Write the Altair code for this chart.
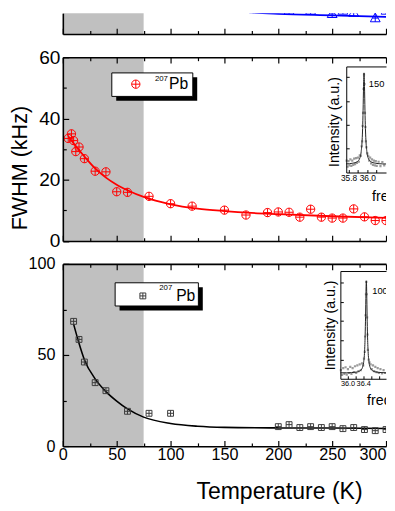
import altair as alt
import pandas as pd

FONT = "Liberation Sans"

# ---------------- data ----------------
SHADE = [0, 75]                      # shaded temperature range (K)
X_DOMAIN = [0, 300]
X_MAJOR = [0, 50, 100, 150, 200, 250, 300]
X_LABELS = [0, 50, 100, 150, 200, 250]
X_LAST = [300]
X_MINOR = [25, 75, 125, 175, 225, 275]

# top panel (blue triangles, only its bottom edge is visible)
T_TOP = [100, 150, 200, 210, 220, 230, 250, 260, 270, 280, 290, 300]
W_TOP = [10.0, 9.7, 10.0, 7.8, 8.9, 7.8, 6.7, 7.8, 7.1, 8.9, 5.3, 7.8]
T_TOP_FIT = [100, 125, 150, 175, 200, 250, 300]
W_TOP_FIT = [11.2, 9.4, 8.1, 7.1, 6.6, 6.1, 5.6]

# middle panel (red circles)
T_MID = [5, 8, 10, 12, 15, 20, 30, 40, 50, 60, 80, 100, 120, 150, 170, 190,
         200, 210, 220, 230, 240, 250, 260, 270, 280, 290, 300]
W_MID = [33.5, 35.0, 32.8, 29.2, 30.7, 26.9, 22.8, 22.6, 16.1, 15.9, 14.6, 12.2,
         11.4, 10.1, 8.5, 9.3, 9.5, 9.4, 7.8, 10.4, 7.8, 7.5, 7.5, 10.5, 7.9, 6.7, 6.7]
T_MID_FIT = [5, 10, 20, 30, 40, 50, 60, 75, 100, 125, 150, 175, 200, 250, 300]
W_MID_FIT = [34.2, 31.9, 27.6, 23.7, 20.7, 18.4, 16.6, 14.4, 12.0, 10.6, 9.8, 9.2,
             8.8, 8.1, 7.6]

# bottom panel (dark squares)
T_BOT = [10, 15, 20, 30, 40, 60, 80, 100, 200, 210, 220, 230, 240, 250, 260,
         270, 280, 290, 300]
W_BOT = [68.5, 58.6, 46.2, 34.9, 30.5, 19.2, 18.1, 18.1, 10.8, 11.9, 10.3, 10.8,
         10.3, 10.8, 9.7, 10.3, 9.2, 8.6, 9.2]
T_BOT_FIT = [10, 15, 20, 30, 40, 50, 60, 75, 100, 125, 150, 200, 250, 300]
W_BOT_FIT = [67, 56.5, 47.5, 37, 30, 24.8, 20.5, 16, 12.5, 11, 10.4, 10.1, 10.0, 9.8]

ISOTOPE = ["Pb"]

# inset spectrum, middle panel (150 K)
F1_FIT = [35.776, 35.845, 35.895, 35.92, 35.935, 35.945, 35.95, 35.955, 35.96,
          35.965, 35.97, 35.975, 35.98, 35.985, 35.995, 36.01, 36.035, 36.085,
          36.165, 36.25]
I1_FIT = [0.36, 0.39, 0.46, 0.60, 0.88, 1.36, 1.84, 2.60, 3.60, 4.17, 3.60, 2.60,
          1.84, 1.36, 0.88, 0.60, 0.46, 0.39, 0.36, 0.355]
F1_PTS = [35.78, 35.79, 35.80, 35.81, 35.82, 35.83, 35.84, 35.85, 35.86, 35.87,
          35.88, 35.89, 35.90, 35.91, 35.92, 35.93, 35.94, 35.945, 35.95, 35.955,
          35.96, 35.965, 35.97, 35.975, 35.98, 35.985, 35.99, 36.00, 36.01, 36.02,
          36.03, 36.04, 36.05, 36.06, 36.07, 36.08, 36.09, 36.10, 36.12, 36.14,
          36.16, 36.18]
I1_PTS = [0.50, 0.25, 0.48, 0.30, 0.55, 0.28, 0.50, 0.32, 0.58, 0.35, 0.60, 0.40,
          0.62, 0.45, 0.72, 0.70, 1.10, 1.30, 1.95, 2.50, 3.50, 4.10, 3.70, 2.50,
          1.90, 1.30, 1.05, 0.80, 0.70, 0.50, 0.62, 0.38, 0.55, 0.32, 0.50, 0.30,
          0.48, 0.28, 0.45, 0.27, 0.44, 0.30]
LAB1 = ["150 K"]
LAB1_F = [36.016]
LAB1_I = [3.69]

# inset spectrum, bottom panel (100 K)
F2_FIT = [35.82, 35.98, 36.23, 36.33, 36.38, 36.41, 36.435, 36.45, 36.46, 36.47,
          36.48, 36.49, 36.50, 36.51, 36.525, 36.55, 36.58, 36.63, 36.73, 36.98]
I2_FIT = [0.31, 0.31, 0.35, 0.43, 0.58, 0.84, 1.43, 2.27, 3.23, 4.44, 5.1, 4.44,
          3.23, 2.27, 1.43, 0.84, 0.58, 0.43, 0.35, 0.31]
F2_PTS = [35.83, 35.86, 35.89, 35.92, 35.95, 35.98, 36.01, 36.04, 36.07, 36.10,
          36.13, 36.16, 36.19, 36.22, 36.25, 36.28, 36.31, 36.34, 36.37, 36.40,
          36.42, 36.44, 36.45, 36.46, 36.47, 36.48, 36.49, 36.50, 36.51, 36.52,
          36.54, 36.56, 36.59, 36.62, 36.65, 36.68, 36.71, 36.74, 36.77, 36.80,
          36.84, 36.88, 36.92, 36.96]
I2_PTS = [0.45, 0.20, 0.55, 0.25, 0.60, 0.22, 0.50, 0.30, 0.62, 0.25, 0.55, 0.35,
          0.65, 0.30, 0.70, 0.40, 0.75, 0.45, 0.80, 0.70, 1.05, 1.40, 2.20, 3.30,
          4.40, 5.05, 4.40, 3.20, 2.30, 1.50, 1.00, 0.85, 0.75, 0.50, 0.70, 0.40,
          0.62, 0.35, 0.55, 0.30, 0.50, 0.28, 0.45, 0.30]
LAB2 = ["100 K"]
LAB2_F = [36.63]
LAB2_I = [4.56]

FREQ_TITLE = "frequency (MHz)"
INT_TITLE = "Intensity (a.u.)"

# ---------------- styling / layout constants ----------------
W = 330
H_TOP, H_MID, H_BOT = 21.3, 187.7, 186.3
GRAY = "#c0c0c0"
RED, BLUE, DARK = "#ff0000", "#0000ff", "#3a3a3a"
CIRC = "M-1,0A1,1,0,1,0,1,0A1,1,0,1,0,-1,0ZM-1,0H1M0,-1V1"
SQUARE = "M-1,-1H1V1H-1ZM-1,0H1M0,-1V1"
TRI = "M0,-1L1,0.8H-1ZM0,-1V0.8M-0.55,0.05H0.55"
COMMON = dict(grid=False, zindex=1, labelFont=FONT, labelColor="black",
              labelFlush=False, labelOverlap=False, titleFont=FONT,
              titleFontWeight="normal", titleColor="black")


def df(**cols):
    return pd.DataFrame(cols)


def xscale():
    return alt.Scale(domain=X_DOMAIN, nice=False, zero=False)


def tick_axis(orient, size, values, **kw):
    d = dict(COMMON, orient=orient, offset=-size, tickSize=size, ticks=True,
             domain=False, labels=False, values=values, title=None,
             tickColor="black", tickWidth=1.2)
    d.update(kw)
    return alt.Axis(**d)


def line_axis(orient, offset, width=1.0, **kw):
    d = dict(COMMON, orient=orient, offset=offset, domain=True, domainColor="black",
             domainWidth=width, ticks=False, tickSize=0, labels=False, title=None)
    d.update(kw)
    return alt.Axis(**d)


def hosts(pairs, yscale, ydom):
    """Invisible layers that only carry axes (frame lines, inward ticks)."""
    out = []
    for xa, ya in pairs:
        out.append(alt.Chart(df(T=X_DOMAIN, W=ydom)).mark_point(
            opacity=0, size=1, clip=True).encode(
            x=alt.X("T:Q", scale=xscale(), axis=xa),
            y=alt.Y("W:Q", scale=yscale, axis=ya)))
    return out


def shade_layer(H):
    return alt.Chart(df(t0=[SHADE[0]], t1=[SHADE[1]])).mark_rect(color=GRAY).encode(
        x=alt.X("t0:Q", scale=xscale(), axis=None), x2="t1:Q",
        y=alt.value(0), y2=alt.value(H))


def inset_layers(H, xs, ys, left, bottom, top, Fp, Ip, Ff, If, lab, lf, li,
                 xlab_vals, lab_font, xtick_vals, ytick_vals, yt_x, yt_y, xt_x, xt_y):
    ax_x_main = line_axis("bottom", -(H - bottom), labels=True, values=xlab_vals,
                          format=".1f", labelFontSize=lab_font, labelPadding=1)
    ax_y_main = line_axis("left", -left, title=INT_TITLE, titleFontSize=14.5,
                          titleX=yt_x, titleY=yt_y, titleAngle=270,
                          titleAlign="center", titleBaseline="middle")
    ax_x_ticks = tick_axis("bottom", 3, xtick_vals, offset=-(H - bottom) - 3,
                           tickWidth=1)
    ax_y_ticks = tick_axis("left", 3, ytick_vals, offset=-left - 3, tickWidth=1)
    ax_top = line_axis("top", -top)
    pts = alt.Chart(df(f=Fp, i=Ip)).mark_square(
        size=5, color="#8a8a8a", opacity=0.85, clip=True).encode(
        x=alt.X("f:Q", scale=xs, axis=ax_x_main),
        y=alt.Y("i:Q", scale=ys, axis=ax_y_main))
    fit = alt.Chart(df(f=Ff, i=If)).mark_line(
        color="#202020", strokeWidth=1, interpolate="monotone", clip=True).encode(
        x=alt.X("f:Q", scale=xs, axis=ax_x_ticks),
        y=alt.Y("i:Q", scale=ys, axis=ax_y_ticks))
    txt = alt.Chart(df(f=lf, i=li, s=lab)).mark_text(
        align="left", baseline="middle", fontSize=9.5, font=FONT, color="black",
        clip=True).encode(
        x=alt.X("f:Q", scale=xs, axis=ax_top),
        y=alt.Y("i:Q", scale=ys, axis=None), text="s:N")
    ftitle = alt.Chart(df(s=[FREQ_TITLE])).mark_text(
        align="left", baseline="middle", fontSize=14.5, font=FONT, color="black",
        clip=True).encode(x=alt.value(xt_x), y=alt.value(xt_y), text="s:N")
    return [pts, fit, txt, ftitle]


def legend_layers(box, shift, sup_xy):
    x0, x1, y0, y1 = box
    shadow = alt.Chart(df(k=[0])).mark_rect(color="black").encode(
        x=alt.value(x0 + shift), x2=alt.value(x1 + shift),
        y=alt.value(y0 + shift), y2=alt.value(y1 + shift))
    frame = alt.Chart(df(k=[0])).mark_rect(fill="white", stroke="black", strokeWidth=1).encode(
        x=alt.value(x0), x2=alt.value(x1), y=alt.value(y0), y2=alt.value(y1))
    sup = alt.Chart(df(k=[0])).mark_text(text="207", align="left", baseline="middle",
                                          fontSize=8, font=FONT, color="black").encode(
        x=alt.value(sup_xy[0]), y=alt.value(sup_xy[1]))
    return [shadow, frame, sup]


def make_legend(x, y, ssize, loff):
    return alt.Legend(orient="none", legendX=x, legendY=y, title=None,
                      labelFont=FONT, labelFontSize=16, labelColor="black",
                      symbolSize=ssize, symbolStrokeWidth=1, labelOffset=loff,
                      padding=0, offset=0, rowPadding=0)


FRAME_W = 1.6

# ---------------- top panel ----------------
ydom_top = [0, H_TOP / 3.117]
ys_top = alt.Scale(domain=ydom_top, nice=False, zero=False)
top_layers = [shade_layer(H_TOP)]
top_layers += hosts([
    (line_axis("bottom", 0, FRAME_W), line_axis("left", 0, FRAME_W)),
    (tick_axis("bottom", 6, X_MAJOR), None),
    (tick_axis("bottom", 3.5, X_MINOR), None),
], ys_top, ydom_top)
top_layers += [
    alt.Chart(df(T=T_TOP_FIT, W=W_TOP_FIT)).mark_line(
        color=BLUE, strokeWidth=1.8, interpolate="monotone", clip=True).encode(
        x=alt.X("T:Q", scale=xscale(), axis=None),
        y=alt.Y("W:Q", scale=ys_top, axis=None)),
    alt.Chart(df(T=T_TOP, W=W_TOP)).mark_point(
        shape=TRI, color=BLUE, filled=False, size=100, strokeWidth=1, opacity=1,
        clip=True).encode(
        x=alt.X("T:Q", scale=xscale(), axis=None),
        y=alt.Y("W:Q", scale=ys_top, axis=None)),
]
top = alt.layer(*top_layers).resolve_scale(
    x="independent", y="independent").properties(width=W, height=H_TOP)

# ---------------- middle panel ----------------
ydom_mid = [0, 60]
ys_mid = alt.Scale(domain=ydom_mid, nice=False, zero=False)
leg_mid = make_legend(66.5, 19.5, 72, 26)
mid_layers = [shade_layer(H_MID)]
mid_layers += inset_layers(
    H_MID,
    alt.Scale(domain=[35.776, 36.199], range=[289.4, 330], nice=False, zero=False),
    alt.Scale(domain=[0, 4.44], range=[117.7, 9.4], nice=False, zero=False),
    289.4, 117.7, 9.4, F1_PTS, I1_PTS, F1_FIT, I1_FIT, LAB1, LAB1_F, LAB1_I,
    [35.8, 36.0], 8.5, [35.8, 35.9, 36.0, 36.1], [1, 2, 3, 4],
    -12.4, 65.7, 315.7, 142.7)
mid_layers += hosts([
    (line_axis("bottom", 0, FRAME_W), line_axis("left", 0, FRAME_W)),
    (tick_axis("bottom", 6, X_MAJOR), tick_axis(
        "left", 6, [0, 20, 40, 60], labels=True, labelFontSize=19.5, labelPadding=3,
        title="FWHM (kHz)", titleFontSize=22, titleX=-50.3, titleY=112.7,
        titleAngle=270, titleAlign="center", titleBaseline="middle")),
    (tick_axis("bottom", 3.5, X_MINOR), tick_axis("left", 3.5, [10, 30, 50])),
    (line_axis("top", 0, FRAME_W), None),
    (tick_axis("top", 6, X_MAJOR), None),
    (tick_axis("top", 3.5, X_MINOR), None),
], ys_mid, ydom_mid)
mid_layers += [
    alt.Chart(df(T=T_MID_FIT, W=W_MID_FIT)).mark_line(
        color=RED, strokeWidth=1.8, interpolate="monotone", clip=True).encode(
        x=alt.X("T:Q", scale=xscale(), axis=None),
        y=alt.Y("W:Q", scale=ys_mid, axis=None)),
    alt.Chart(df(T=T_MID, W=W_MID, iso=ISOTOPE * len(T_MID))).mark_point(
        filled=False, size=72, strokeWidth=1, opacity=1, clip=True).encode(
        x=alt.X("T:Q", scale=xscale(), axis=None),
        y=alt.Y("W:Q", scale=ys_mid, axis=None),
        color=alt.Color("iso:N", scale=alt.Scale(range=[RED]), legend=leg_mid),
        shape=alt.Shape("iso:N", scale=alt.Scale(range=[CIRC]), legend=leg_mid)),
]
mid_layers += legend_layers([50, 132.7, 16, 40], 4.5, (94, 22.2))
mid = alt.layer(*mid_layers).resolve_scale(
    x="independent", y="independent").properties(width=W, height=H_MID)

# ---------------- bottom panel ----------------
ydom_bot = [0, 100]
ys_bot = alt.Scale(domain=ydom_bot, nice=False, zero=False)
leg_bot = make_legend(73.7, 24.7, 36, 26)
bot_layers = [shade_layer(H_BOT)]
bot_layers += inset_layers(
    H_BOT,
    alt.Scale(domain=[35.8175, 36.9825], range=[283.4, 330], nice=False, zero=False),
    alt.Scale(domain=[0, 5.61], range=[117.3, 7.3], nice=False, zero=False),
    283.4, 117.3, 7.3, F2_PTS, I2_PTS, F2_FIT, I2_FIT, LAB2, LAB2_F, LAB2_I,
    [36.0, 36.4], 7.5, [36.0, 36.2, 36.4, 36.6, 36.8], [1, 2, 3, 4, 5],
    -10, 62.3, 310.7, 140)
bot_layers += hosts([
    (line_axis("bottom", 0, FRAME_W), line_axis("left", 0, FRAME_W)),
    (tick_axis("bottom", 6, X_MAJOR), tick_axis(
        "left", 6, [0, 50, 100], labels=True, labelFontSize=16.5, labelPadding=8)),
    (tick_axis("bottom", 3.5, X_MINOR), tick_axis("left", 3.5, [25, 75])),
    (tick_axis("bottom", 6, X_LABELS, ticks=False, tickSize=6, labels=True,
               labelFontSize=16.5, labelPadding=6, title="Temperature (K)",
               titleFontSize=23.5, titleX=220.7, titleY=59.5, titleAlign="center",
               titleBaseline="alphabetic"), None),
    (tick_axis("bottom", 6, X_LAST, ticks=False, tickSize=6, labels=True,
               labelFontSize=16.5, labelPadding=6, labelFlush=3), None),
    (line_axis("top", 0, FRAME_W), None),
    (tick_axis("top", 6, X_MAJOR), None),
    (tick_axis("top", 3.5, X_MINOR), None),
], ys_bot, ydom_bot)
bot_layers += [
    alt.Chart(df(T=T_BOT_FIT, W=W_BOT_FIT)).mark_line(
        color="black", strokeWidth=1.6, interpolate="monotone", clip=True).encode(
        x=alt.X("T:Q", scale=xscale(), axis=None),
        y=alt.Y("W:Q", scale=ys_bot, axis=None)),
    alt.Chart(df(T=T_BOT, W=W_BOT, iso=ISOTOPE * len(T_BOT))).mark_point(
        filled=False, size=36, strokeWidth=1, opacity=1, clip=True).encode(
        x=alt.X("T:Q", scale=xscale(), axis=None),
        y=alt.Y("W:Q", scale=ys_bot, axis=None),
        color=alt.Color("iso:N", scale=alt.Scale(range=[DARK]), legend=leg_bot),
        shape=alt.Shape("iso:N", scale=alt.Scale(range=[SQUARE]), legend=leg_bot)),
]
bot_layers += legend_layers([53.4, 138.4, 19.3, 43], 4.5, (98.4, 24.5))
bot = alt.layer(*bot_layers).resolve_scale(
    x="independent", y="independent").properties(width=W, height=H_BOT)

chart = alt.vconcat(top, mid, bot, spacing=23, bounds="flush").resolve_scale(
    color="independent", shape="independent"
).properties(padding=0).configure(background="white").configure_view(
    strokeWidth=0
).configure_axis(grid=False)

chart.save("out.html", embed_options={"renderer": "svg", "actions": False})
